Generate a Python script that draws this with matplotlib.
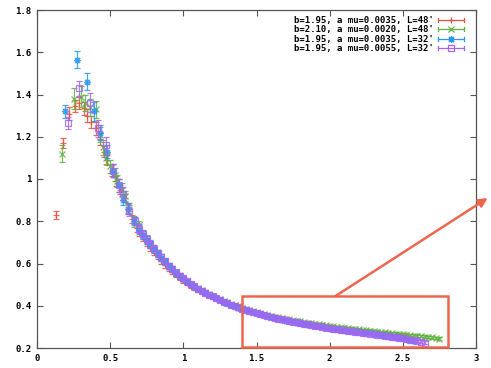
import matplotlib
matplotlib.use("Agg")
from matplotlib import pyplot as plt
from matplotlib.lines import Line2D
from matplotlib.patches import Rectangle
from matplotlib.legend_handler import HandlerBase
from matplotlib.ticker import FuncFormatter

labels = ["b=1.95, a mu=0.0035, L=48'",
          "b=2.10, a mu=0.0020, L=48'",
          "b=1.95, a mu=0.0035, L=32'",
          "b=1.95, a mu=0.0055, L=32'"]

# dense part of the curve, shared x grid
x_tail = [0.700, 0.725, 0.750, 0.775, 0.800, 0.825, 0.850, 0.875, 0.900, 0.925,
          0.950, 0.975, 1.000, 1.025, 1.050, 1.075, 1.100, 1.125, 1.150, 1.175,
          1.200, 1.225, 1.250, 1.275, 1.300, 1.325, 1.350, 1.375, 1.400, 1.425,
          1.450, 1.475, 1.500, 1.525, 1.550, 1.575, 1.600, 1.625, 1.650, 1.675,
          1.700, 1.725, 1.750, 1.775, 1.800, 1.825, 1.850, 1.875, 1.900, 1.925,
          1.950, 1.975, 2.000, 2.025, 2.050, 2.075, 2.100, 2.125, 2.150, 2.175,
          2.200, 2.225, 2.250, 2.275, 2.300, 2.325, 2.350, 2.375, 2.400, 2.425,
          2.450, 2.475, 2.500, 2.525, 2.550, 2.575, 2.600, 2.625, 2.650, 2.675,
          2.700, 2.725, 2.750]
err_tail = [0.020, 0.019, 0.018, 0.017, 0.016, 0.016, 0.015, 0.015, 0.014, 0.014,
            0.013, 0.013, 0.012, 0.012, 0.011, 0.011, 0.010, 0.010, 0.010, 0.010,
            0.009, 0.009, 0.009, 0.009, 0.008, 0.008, 0.008, 0.008, 0.008, 0.008,
            0.007, 0.007, 0.007, 0.007, 0.007, 0.007, 0.007, 0.007, 0.007, 0.007,
            0.006, 0.006, 0.006, 0.006, 0.006, 0.006, 0.006, 0.006, 0.006, 0.006,
            0.006, 0.006, 0.006, 0.006, 0.006, 0.006, 0.006, 0.006, 0.006, 0.006,
            0.006, 0.006, 0.006, 0.006, 0.006, 0.006, 0.006, 0.006, 0.006, 0.006,
            0.006, 0.006, 0.006, 0.006, 0.006, 0.006, 0.006, 0.006, 0.006, 0.006,
            0.006, 0.006, 0.006]

# b=1.95, mu=0.0035, L=48
red_x = [0.13, 0.18, 0.22, 0.26, 0.29, 0.32, 0.34, 0.37, 0.40, 0.43,
         0.46, 0.48, 0.51, 0.54, 0.57, 0.60, 0.62, 0.65, 0.68]
red_y = [0.83, 1.17, 1.31, 1.345, 1.36, 1.335, 1.30, 1.27, 1.24, 1.19,
         1.13, 1.09, 1.04, 0.99, 0.95, 0.91, 0.86, 0.81, 0.77]
red_e = [0.02, 0.025, 0.03, 0.03, 0.03, 0.03, 0.03, 0.03, 0.03, 0.03,
         0.025, 0.025, 0.025, 0.025, 0.02, 0.02, 0.02, 0.02, 0.02]
red_t = [0.75, 0.725, 0.70, 0.678, 0.655, 0.635, 0.615, 0.596, 0.578, 0.563,
         0.548, 0.534, 0.52, 0.508, 0.497, 0.487, 0.477, 0.468, 0.459, 0.450,
         0.442, 0.434, 0.426, 0.418, 0.411, 0.404, 0.398, 0.392, 0.386, 0.380,
         0.375, 0.370, 0.365, 0.360, 0.356, 0.352, 0.348, 0.344, 0.340, 0.336,
         0.333, 0.330, 0.326, 0.323, 0.320, 0.317, 0.314, 0.311, 0.309, 0.306,
         0.304, 0.301, 0.299, 0.296, 0.294, 0.291, 0.289, 0.287, 0.285, 0.282,
         0.280, 0.278, 0.276, 0.274, 0.272, 0.270, 0.268, 0.266, 0.264, 0.262,
         0.260, 0.258, 0.256, 0.254, 0.252]

# b=2.10, mu=0.0020, L=48
green_x = [0.17, 0.25, 0.30, 0.33, 0.36, 0.40, 0.43, 0.45, 0.47, 0.50,
           0.53, 0.55, 0.58, 0.60, 0.63, 0.66]
green_y = [1.12, 1.38, 1.39, 1.36, 1.34, 1.33, 1.21, 1.15, 1.10, 1.06,
           1.02, 0.99, 0.95, 0.92, 0.86, 0.80]
green_e = [0.04, 0.05, 0.05, 0.04, 0.04, 0.04, 0.035, 0.035, 0.03, 0.03,
           0.03, 0.03, 0.03, 0.025, 0.025, 0.025]
green_t = [0.78, 0.735, 0.71, 0.69, 0.67, 0.648, 0.628, 0.608, 0.59, 0.572,
           0.556, 0.541, 0.527, 0.515, 0.503, 0.492, 0.482, 0.473, 0.464, 0.455,
           0.447, 0.439, 0.431, 0.423, 0.416, 0.409, 0.403, 0.397, 0.391, 0.385,
           0.380, 0.375, 0.370, 0.365, 0.361, 0.357, 0.353, 0.349, 0.345, 0.341,
           0.338, 0.335, 0.332, 0.329, 0.326, 0.323, 0.320, 0.317, 0.315, 0.312,
           0.310, 0.307, 0.305, 0.302, 0.300, 0.298, 0.296, 0.294, 0.292, 0.290,
           0.288, 0.286, 0.284, 0.282, 0.280, 0.278, 0.276, 0.274, 0.272, 0.270,
           0.268, 0.266, 0.265, 0.263, 0.261, 0.259, 0.258, 0.256, 0.254, 0.252,
           0.250, 0.247, 0.244]

# b=1.95, mu=0.0035, L=32
blue_x = [0.19, 0.27, 0.34, 0.39, 0.43, 0.48, 0.52, 0.56, 0.59, 0.62, 0.66]
blue_y = [1.32, 1.565, 1.46, 1.32, 1.22, 1.13, 1.04, 0.97, 0.90, 0.86, 0.80]
blue_e = [0.03, 0.04, 0.04, 0.045, 0.035, 0.03, 0.03, 0.03, 0.025, 0.025, 0.02]
blue_t = [0.76, 0.735, 0.712, 0.69, 0.668, 0.648, 0.628, 0.607, 0.588, 0.572,
          0.556, 0.541, 0.527, 0.514, 0.501, 0.490, 0.480, 0.470, 0.461, 0.452,
          0.444, 0.435, 0.427, 0.419, 0.411, 0.404, 0.398, 0.391, 0.385, 0.379,
          0.374, 0.369, 0.364, 0.359, 0.354, 0.350, 0.346, 0.342, 0.338, 0.334,
          0.330, 0.326, 0.323, 0.320, 0.317, 0.314, 0.311, 0.308, 0.305, 0.302,
          0.300, 0.297, 0.295, 0.292, 0.290, 0.287, 0.285, 0.282, 0.280, 0.278,
          0.276, 0.273, 0.271, 0.269, 0.267, 0.264, 0.262, 0.259, 0.257, 0.254,
          0.252, 0.249, 0.246, 0.242, 0.238, 0.234]

# b=1.95, mu=0.0055, L=32
purple_x = [0.21, 0.29, 0.36, 0.42, 0.47, 0.52, 0.56, 0.59, 0.63, 0.67]
purple_y = [1.265, 1.43, 1.36, 1.24, 1.16, 1.04, 0.97, 0.93, 0.85, 0.80]
purple_e = [0.03, 0.035, 0.045, 0.04, 0.04, 0.03, 0.03, 0.03, 0.025, 0.02]
purple_t = [0.765, 0.74, 0.715, 0.692, 0.67, 0.65, 0.63, 0.61, 0.59, 0.574,
            0.558, 0.543, 0.529, 0.516, 0.503, 0.492, 0.481, 0.471, 0.462, 0.453,
            0.445, 0.436, 0.428, 0.420, 0.412, 0.405, 0.399, 0.392, 0.386, 0.380,
            0.375, 0.370, 0.365, 0.360, 0.355, 0.351, 0.347, 0.343, 0.339, 0.335,
            0.331, 0.327, 0.324, 0.321, 0.318, 0.315, 0.312, 0.309, 0.306, 0.303,
            0.300, 0.297, 0.295, 0.292, 0.290, 0.287, 0.285, 0.282, 0.280, 0.277,
            0.275, 0.272, 0.270, 0.268, 0.266, 0.263, 0.261, 0.258, 0.256, 0.253,
            0.251, 0.248, 0.246, 0.243, 0.240, 0.237, 0.233, 0.230, 0.226]

colors = ['#e9513e', '#5fb342', '#2a98ec', '#a566f2']
markers = ['+', 'x', (8, 2, 0), 's']
hl_color = '#ee6650'
font = dict(family='DejaVu Sans Mono', weight='bold', size=6.5)


class ErrKey(HandlerBase):
    # gnuplot style key sample: bar with end ticks and the point in the middle
    def create_artists(self, legend, orig, xd, yd, w, h, fs, trans):
        c = orig.get_color()
        y = h / 2 - yd
        x0, x1 = -xd, w - xd
        cap = h * 0.3
        arts = [Line2D([x0, x1], [y, y], color=c, lw=0.9),
                Line2D([x0, x0], [y - cap, y + cap], color=c, lw=0.9),
                Line2D([x1, x1], [y - cap, y + cap], color=c, lw=0.9),
                Line2D([(x0 + x1) / 2], [y], marker=orig.get_marker(), ls='none',
                       color=c, mfc=orig.get_markerfacecolor(),
                       ms=orig.get_markersize(), mew=0.9)]
        for a in arts:
            a.set_transform(trans)
        return arts


fig = plt.figure(figsize=(4.91, 3.68), dpi=100)
ax = fig.add_axes([37 / 491, 20 / 368, 439 / 491, 338 / 368])

series = [(red_x, red_y, red_e, red_t),
          (green_x, green_y, green_e, green_t),
          (blue_x, blue_y, blue_e, blue_t),
          (purple_x, purple_y, purple_e, purple_t)]

handles = []
for i, (xs, ys, es, yt) in enumerate(series):
    n = len(yt)
    x = xs + x_tail[:n]
    y = ys + yt
    e = es + err_tail[:n]
    mfc = 'none' if markers[i] == 's' else colors[i]
    ax.errorbar(x, y, yerr=e, fmt='none', ecolor=colors[i], elinewidth=0.9,
                capsize=2.2, capthick=0.9, alpha=0.85)
    ax.plot(x, y, ls='none', marker=markers[i], color=colors[i], mfc=mfc,
            ms=5, mew=0.9, alpha=0.85)
    handles.append(Line2D([], [], color=colors[i], marker=markers[i], mfc=mfc, ms=5))

ax.set_xlim(0, 3)
ax.set_ylim(0.2, 1.8)
ax.set_xticks([0, 0.5, 1, 1.5, 2, 2.5, 3])
ax.set_yticks([0.2, 0.4, 0.6, 0.8, 1.0, 1.2, 1.4, 1.6, 1.8])
fmt = FuncFormatter(lambda v, p: '%g' % v)
ax.xaxis.set_major_formatter(fmt)
ax.yaxis.set_major_formatter(fmt)
ax.tick_params(direction='in', top=True, right=True, length=4, width=0.8,
               color='#555555', pad=4)
for lab in ax.get_xticklabels() + ax.get_yticklabels():
    lab.set_fontproperties(matplotlib.font_manager.FontProperties(**font))
for s in ax.spines.values():
    s.set_color('#555555')
    s.set_linewidth(0.9)

leg = ax.legend(handles, labels, loc='upper right', bbox_to_anchor=(0.985, 1.0),
                frameon=False, markerfirst=False, handlelength=2.8,
                handletextpad=0.5, labelspacing=0.05, borderaxespad=0.25,
                prop=matplotlib.font_manager.FontProperties(**font),
                handler_map={Line2D: ErrKey()})

# highlight box and arrow
ax.add_patch(Rectangle((1.40, 0.203), 1.41, 0.243, fill=False,
                       edgecolor=hl_color, lw=1.8, clip_on=False, zorder=5))
ax.annotate('', xy=(3.08, 0.91), xytext=(2.04, 0.446),
            arrowprops=dict(arrowstyle='-|>', color=hl_color, lw=1.8,
                            mutation_scale=13, shrinkA=0, shrinkB=0),
            annotation_clip=False)

fig.savefig('out.png', dpi=100)
